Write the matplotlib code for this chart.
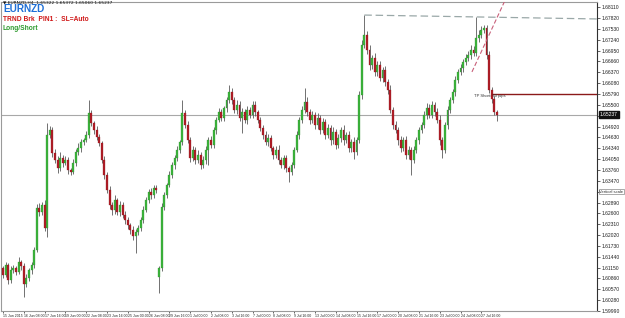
import matplotlib
matplotlib.use("Agg")
import matplotlib.pyplot as plt
import matplotlib.transforms as mtransforms
import numpy as np

# ---------------- data ----------------
first_open = 1.6114
gap_opens = {60: 1.6090}          # Monday gap (29 Jun)
close = [
    1.6096, 1.6122, 1.6082, 1.6109, 1.6114, 1.6104, 1.6130, 1.6120, 1.6072, 1.6088,
    1.6109, 1.6122, 1.6163, 1.6275, 1.6264, 1.6283, 1.6221, 1.6470, 1.6483, 1.6421,
    1.6403, 1.6381, 1.6408, 1.6395, 1.6403, 1.6376, 1.6371, 1.6395, 1.6424, 1.6435,
    1.6451, 1.6456, 1.6470, 1.6528, 1.6502, 1.6483, 1.6464, 1.6448, 1.6403, 1.6363,
    1.6323, 1.6283, 1.6269, 1.6296, 1.6264, 1.6283, 1.6256, 1.6243, 1.6229, 1.6216,
    1.6200, 1.6211, 1.6221, 1.6243, 1.6269, 1.6296, 1.6317, 1.6309, 1.6328, 1.6323,
    1.6114, 1.6277, 1.6309, 1.6336, 1.6363, 1.6389, 1.6408, 1.6430, 1.6451, 1.6528,
    1.6496, 1.6456, 1.6408, 1.6430, 1.6403, 1.6416, 1.6389, 1.6403, 1.6430, 1.6456,
    1.6443, 1.6483, 1.6510, 1.6531, 1.6515, 1.6542, 1.6563, 1.6584, 1.6563, 1.6536,
    1.6550, 1.6515, 1.6531, 1.6510, 1.6536, 1.6523, 1.6550, 1.6531, 1.6510, 1.6488,
    1.6470, 1.6451, 1.6462, 1.6435, 1.6416, 1.6430, 1.6403, 1.6389, 1.6408, 1.6381,
    1.6371, 1.6389, 1.6430, 1.6470, 1.6510, 1.6536, 1.6558, 1.6531, 1.6510, 1.6523,
    1.6496, 1.6515, 1.6483, 1.6504, 1.6470, 1.6488, 1.6456, 1.6478, 1.6443, 1.6462,
    1.6483, 1.6456, 1.6470, 1.6435, 1.6451, 1.6424, 1.6456, 1.6576, 1.6710, 1.6737,
    1.6697, 1.6656, 1.6675, 1.6638, 1.6656, 1.6622, 1.6643, 1.6611, 1.6590, 1.6536,
    1.6496, 1.6483, 1.6456, 1.6435, 1.6456, 1.6416, 1.6430, 1.6403, 1.6430, 1.6456,
    1.6483, 1.6496, 1.6523, 1.6542, 1.6523, 1.6550, 1.6531, 1.6510, 1.6456, 1.6430,
    1.6496, 1.6536, 1.6563, 1.6584, 1.6616, 1.6638, 1.6648, 1.6664, 1.6675, 1.6683,
    1.6697, 1.6689, 1.6729, 1.6737, 1.6750, 1.6755, 1.6683, 1.6590, 1.6566, 1.65322,
    1.65237,
]
upper_wick_pips = [
    5, 8, 6, 10, 7, 5, 12, 6, 8, 10,
    6, 9, 8, 10, 12, 8, 14, 32, 10, 8,
    12, 9, 16, 7, 10, 8, 6, 9, 7, 12,
    8, 6, 10, 35, 8, 6, 10, 7, 6, 9,
    8, 10, 7, 12, 6, 9, 8, 10, 7, 6,
    9, 8, 7, 6, 10, 8, 7, 12, 9, 8,
    5, 10, 8, 6, 9, 7, 8, 10, 6, 35,
    8, 12, 9, 10, 7, 12, 8, 9, 10, 8,
    12, 7, 8, 10, 9, 6, 8, 19, 10, 8,
    12, 9, 10, 8, 11, 7, 9, 10, 6, 8,
    7, 10, 9, 8, 6, 10, 12, 7, 9, 8,
    6, 8, 7, 9, 8, 10, 37, 12, 9, 10,
    8, 12, 9, 10, 8, 11, 9, 12, 8, 10,
    9, 12, 8, 10, 9, 12, 8, 10, 12, 53,
    10, 12, 9, 14, 10, 12, 8, 10, 9, 12,
    8, 10, 9, 12, 8, 10, 9, 7, 10, 8,
    9, 7, 10, 12, 9, 11, 8, 10, 12, 9,
    8, 10, 7, 9, 12, 8, 10, 9, 12, 10,
    14, 9, 56, 12, 10, 9, 8, 10, 7, 8,
    5,
]
lower_wick_pips = [
    8, 6, 10, 7, 9, 8, 6, 12, 35, 9,
    8, 10, 7, 6, 12, 8, 9, 24, 8, 10,
    9, 14, 8, 10, 7, 12, 9, 6, 8, 7,
    10, 8, 6, 9, 8, 10, 7, 9, 8, 10,
    9, 12, 14, 10, 8, 12, 9, 11, 10, 12,
    10, 45, 8, 7, 9, 6, 8, 10, 7, 9,
    42, 8, 7, 9, 6, 8, 10, 7, 9, 8,
    9, 8, 12, 9, 10, 8, 11, 9, 12, 41,
    9, 8, 10, 7, 9, 8, 10, 9, 12, 8,
    10, 9, 40, 8, 10, 9, 7, 10, 8, 9,
    10, 8, 12, 9, 10, 8, 12, 9, 10, 11,
    27, 9, 8, 7, 10, 8, 9, 12, 10, 9,
    11, 10, 12, 9, 10, 8, 12, 10, 11, 9,
    10, 12, 9, 11, 10, 20, 9, 8, 10, 9,
    10, 12, 11, 10, 12, 9, 11, 10, 12, 9,
    10, 9, 12, 10, 9, 11, 10, 40, 9, 8,
    10, 9, 8, 10, 9, 8, 10, 9, 12, 22,
    9, 10, 8, 9, 10, 8, 9, 10, 8, 9,
    10, 9, 8, 10, 9, 8, 10, 9, 12, 10,
    18,
]
date_labels = [
    "15 Jun 2015", "16 Jun 08:00", "17 Jun 16:00", "19 Jun 00:00", "22 Jun 08:00",
    "23 Jun 16:00", "25 Jun 00:00", "26 Jun 08:00", "29 Jun 16:00", "1 Jul 00:00",
    "2 Jul 08:00", "3 Jul 16:00", "7 Jul 00:00", "8 Jul 08:00", "9 Jul 16:00",
    "13 Jul 00:00", "14 Jul 08:00", "15 Jul 16:00", "17 Jul 00:00", "20 Jul 08:00",
    "21 Jul 16:00", "23 Jul 00:00", "24 Jul 08:00", "27 Jul 16:00",
]
bars_per_label = 8
price_ticks = [round(1.59990 + k * 0.00290, 5) for k in range(29)]
trend_high_bars = [139, 182]       # bars whose highs define the dashed grey trend line
up_trend = [(180.4, 1.6638), (193.5, 1.6835)]   # dashed red rising trend line
sl_price = 1.6579
sl_start_bar = 188
tp_text = "TP Short: 60 pips"
header = "EURNZD,H4  1.65322 1.65372 1.65060 1.65237"
vscale_price = 1.63180   # price level where the "Vertical scale" box sits

# ---------------- derived OHLC ----------------
n = len(close)
close = np.array(close)
opens = np.concatenate([[first_open], close[:-1]])
for k, v in gap_opens.items():
    opens[k] = v
highs = np.maximum(opens, close) + np.array(upper_wick_pips) * 1e-4
lows = np.minimum(opens, close) - np.array(lower_wick_pips) * 1e-4
idx = np.arange(n)

# ---------------- figure ----------------
W, H = 625, 318
fig = plt.figure(figsize=(W / 100, H / 100), dpi=100)
fig.patch.set_facecolor("white")
ax = fig.add_axes([1 / W, 7 / H, 596 / W, 309 / H])
XMIN, XMAX = -0.77, 228.5
YMIN, YMAX = 1.59990, 1.68249
ax.set_xlim(XMIN, XMAX)
ax.set_ylim(YMIN, YMAX)

green = "#3cb43c"
red = "#b01e28"
wick = "#5a5a5a"
up = close >= opens
ax.vlines(idx, lows, highs, color=wick, lw=0.6, zorder=2)
body_h = np.maximum(np.abs(close - opens), 0.00008)
ax.bar(idx[up], body_h[up], bottom=opens[up], width=0.72,
       color=green, edgecolor="#2a8a2a", lw=0.2, zorder=3)
ax.bar(idx[~up], body_h[~up], bottom=close[~up], width=0.72,
       color=red, edgecolor="#8a1018", lw=0.2, zorder=3)

# current price line
last = float(close[-1])
ax.axhline(last, color="#a8a8a8", lw=0.8, zorder=1)

# grey dashed trend line through two highs, extended to the right
b1, b2 = trend_high_bars
h1, h2 = highs[b1], highs[b2]
slope = (h2 - h1) / (b2 - b1)
ax.plot([b1, XMAX], [h1, h1 + slope * (XMAX - b1)], color="#9aa8a8",
        lw=0.9, ls=(0, (6, 3)), zorder=4)

# rising dashed red line
ax.plot([up_trend[0][0], up_trend[1][0]], [up_trend[0][1], up_trend[1][1]],
        color="#c8607a", lw=0.8, ls=(0, (4, 2)), zorder=4, clip_on=True)

# SL / TP line
ax.plot([sl_start_bar, XMAX], [sl_price, sl_price], color="#8b1a1a", lw=1.0, zorder=4)
ax.text(181.0, sl_price - 0.0006, tp_text, fontsize=3.0, color="#333333",
        va="center", ha="left", zorder=6, family="Liberation Sans")

# axes styling
for s in ["left", "top", "bottom"]:
    ax.spines[s].set_color("#9a9a9a")
    ax.spines[s].set_linewidth(0.8)
ax.spines["right"].set_color("#303030")
ax.spines["right"].set_linewidth(0.8)
ax.yaxis.tick_right()
ax.set_yticks(price_ticks)
ylabels = ["" if (abs(p - last) < 0.0012 or abs(p - vscale_price) < 0.0012)
           else f"{p:.5f}" for p in price_ticks]
ax.set_yticklabels(ylabels, family="Liberation Sans")
ax.tick_params(axis="y", labelsize=3.6, length=2, width=0.5, pad=1.5, colors="#222222")
xt = [i * bars_per_label for i in range(len(date_labels))]
ax.set_xticks(xt)
ax.set_xticklabels(date_labels, ha="left", family="Liberation Sans")
ax.tick_params(axis="x", labelsize=2.5, length=1.5, width=0.5, pad=0.5, colors="#222222")

# current price box on the price axis
trans = mtransforms.blended_transform_factory(ax.transAxes, ax.transData)
ax.text(1.005, last, f"{last:.5f}", transform=trans, fontsize=3.6, color="white",
        va="center", ha="left", zorder=10, clip_on=False, family="Liberation Sans",
        bbox=dict(boxstyle="square,pad=0.25", fc="#111111", ec="#111111"))

# vertical scale box
ax.text(1.004, vscale_price, "Vertical scale", transform=trans, fontsize=3.0,
        color="#333333", va="center", ha="left", family="Liberation Sans",
        clip_on=False, zorder=10,
        bbox=dict(boxstyle="square,pad=0.2", fc="white", ec="#888888", lw=0.5))

# header texts
fig.text(3 / W, 1 - 2.5 / H, "\u25bc " + header, fontsize=3.2, color="#111111",
         va="center", ha="left", family="DejaVu Sans")
fig.text(3 / W, 1 - 9.5 / H, "EURNZD", fontsize=7.2, color="#1f6fd6",
         fontweight="bold", va="center", ha="left", family="Liberation Sans")
fig.text(3 / W, 1 - 19.5 / H, "TRND Brk  PIN1 :  SL=Auto", fontsize=4.8, color="#d01818",
         fontweight="bold", va="center", ha="left", family="Liberation Sans")
fig.text(3 / W, 1 - 28.5 / H, "Long/Short", fontsize=4.8, color="#2e9a2e",
         fontweight="bold", va="center", ha="left", family="Liberation Sans")

fig.savefig("out.png", dpi=100, facecolor="white")
